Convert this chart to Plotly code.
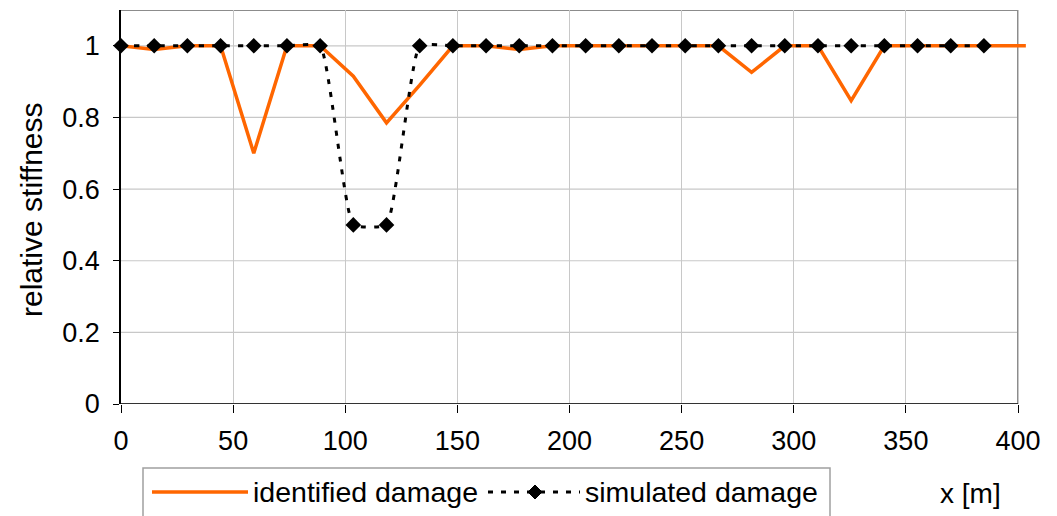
import plotly.graph_objects as go

# Measurement stations along the structure [m]
x_stations = [0, 14.8, 29.6, 44.4, 59.2, 74.0, 88.8, 103.6, 118.4, 133.2,
              148.0, 162.8, 177.6, 192.4, 207.2, 222.0, 236.8, 251.6, 266.4,
              281.2, 296.0, 310.8, 325.6, 340.4, 355.2, 370.0, 384.8]

# Identified stiffness runs one segment past the last station
x_identified = x_stations + [403.5]
identified = [1.0, 0.99, 1.0, 1.0, 0.70, 1.0, 1.0, 0.915, 0.785, 0.89,
              1.0, 1.0, 0.99, 1.0, 1.0, 1.0, 1.0, 1.0, 1.0, 0.926,
              1.0, 1.0, 0.847, 1.0, 1.0, 1.0, 1.0, 1.0]

simulated = [1.0, 1.0, 1.0, 1.0, 1.0, 1.0, 1.0, 0.5, 0.5, 1.0,
             1.0, 1.0, 1.0, 1.0, 1.0, 1.0, 1.0, 1.0, 1.0, 1.0,
             1.0, 1.0, 1.0, 1.0, 1.0, 1.0, 1.0]

x_ticks = [0, 50, 100, 150, 200, 250, 300, 350, 400]
y_ticks = [0, 0.2, 0.4, 0.6, 0.8, 1.0]
y_ticktext = ["0", "0.2", "0.4", "0.6", "0.8", "1"]

X_MAX = 400
Y_MAX = 1.1
ORANGE = "#FF6600"
FONT = "Liberation Sans, Arial, sans-serif"
DOTS = "5px,8px"

W, H = 1057, 516
L, R, T, B = 121, 29, 10, 112
PW, PH = W - L - R, H - T - B


def px(xp):
    return (xp - L) / PW


def py(yp):
    return (H - B - yp) / PH


fig = go.Figure()

fig.add_trace(go.Scatter(
    x=x_identified, y=identified, mode="lines",
    line=dict(color=ORANGE, width=3.5),
    name="identified damage", showlegend=False,
))
fig.add_trace(go.Scatter(
    x=x_stations, y=simulated, mode="lines+markers",
    line=dict(color="black", width=3, dash=DOTS, shape="spline", smoothing=0.4),
    marker=dict(symbol="diamond", size=12, color="black"),
    name="simulated damage", showlegend=False, cliponaxis=False,
))

shapes = []
# horizontal gridlines stop at the right frame
for yv in y_ticks[1:]:
    shapes.append(dict(type="line", xref="x", yref="y", x0=0, x1=X_MAX, y0=yv, y1=yv,
                       line=dict(color="#c8c8c8", width=1.2), layer="below"))
# frame: gray top/right, dark bottom axis
shapes.append(dict(type="line", xref="x", yref="y", x0=0, x1=X_MAX, y0=Y_MAX, y1=Y_MAX,
                   line=dict(color="#8c8c8c", width=2), layer="below"))
shapes.append(dict(type="line", xref="x", yref="y", x0=X_MAX, x1=X_MAX, y0=0, y1=Y_MAX,
                   line=dict(color="#8c8c8c", width=2), layer="below"))
shapes.append(dict(type="line", xref="x", yref="y", x0=0, x1=X_MAX, y0=0, y1=0,
                   line=dict(color="#333333", width=2), layer="above"))

# legend box and samples
shapes.append(dict(type="rect", xref="paper", yref="paper",
                   x0=px(143), x1=px(830), y0=py(540), y1=py(468),
                   line=dict(color="#a0a0a0", width=1.5), fillcolor="white"))
leg_y = py(492)
shapes.append(dict(type="line", xref="paper", yref="paper",
                   x0=px(152), x1=px(248), y0=leg_y, y1=leg_y,
                   line=dict(color=ORANGE, width=3.5)))
shapes.append(dict(type="line", xref="paper", yref="paper",
                   x0=px(488), x1=px(580), y0=leg_y, y1=leg_y,
                   line=dict(color="black", width=3, dash=DOTS)))
cx, cy, hw, hh = px(535), leg_y, 7 / PW, 7 / PH
shapes.append(dict(type="path", xref="paper", yref="paper",
                   path=f"M {cx - hw} {cy} L {cx} {cy + hh} L {cx + hw} {cy} L {cx} {cy - hh} Z",
                   fillcolor="black", line=dict(color="black", width=1)))

annotations = [
    dict(text="relative stiffness", xref="paper", yref="paper", x=px(31), y=py(210),
         textangle=-90, showarrow=False, xanchor="center", yanchor="middle",
         font=dict(family=FONT, size=30, color="black")),
    dict(text="x [m]", xref="paper", yref="paper", x=px(970), y=py(494),
         showarrow=False, xanchor="center", yanchor="middle",
         font=dict(family=FONT, size=28, color="black")),
    dict(text="identified damage", xref="paper", yref="paper", x=px(251), y=leg_y,
         showarrow=False, xanchor="left", yanchor="middle",
         font=dict(family=FONT, size=28.5, color="black")),
    dict(text="simulated damage", xref="paper", yref="paper", x=px(583), y=leg_y,
         showarrow=False, xanchor="left", yanchor="middle",
         font=dict(family=FONT, size=28.5, color="black")),
]

fig.update_layout(
    width=W, height=H,
    margin=dict(l=L, r=R, t=T, b=B, pad=0),
    paper_bgcolor="white", plot_bgcolor="white",
    font=dict(family=FONT, size=27, color="black"),
    shapes=shapes, annotations=annotations,
    xaxis=dict(
        range=[0, X_MAX * (PW / (1018 - L))],
        tickvals=x_ticks, ticks="outside", ticklen=8, tickcolor="black", tickwidth=1,
        ticklabelstandoff=5,
        showgrid=True, gridcolor="#c8c8c8", gridwidth=1.2,
        zeroline=False, showline=False,
        tickfont=dict(family=FONT, size=27, color="black"),
    ),
    yaxis=dict(
        range=[0, Y_MAX],
        tickvals=y_ticks, ticktext=y_ticktext,
        ticks="outside", ticklen=6, tickcolor="black", tickwidth=1,
        ticklabelstandoff=8,
        showgrid=False, zeroline=False,
        showline=True, linecolor="black", linewidth=1.5,
        tickfont=dict(family=FONT, size=27, color="black"),
    ),
)

fig.write_html("out.html")
